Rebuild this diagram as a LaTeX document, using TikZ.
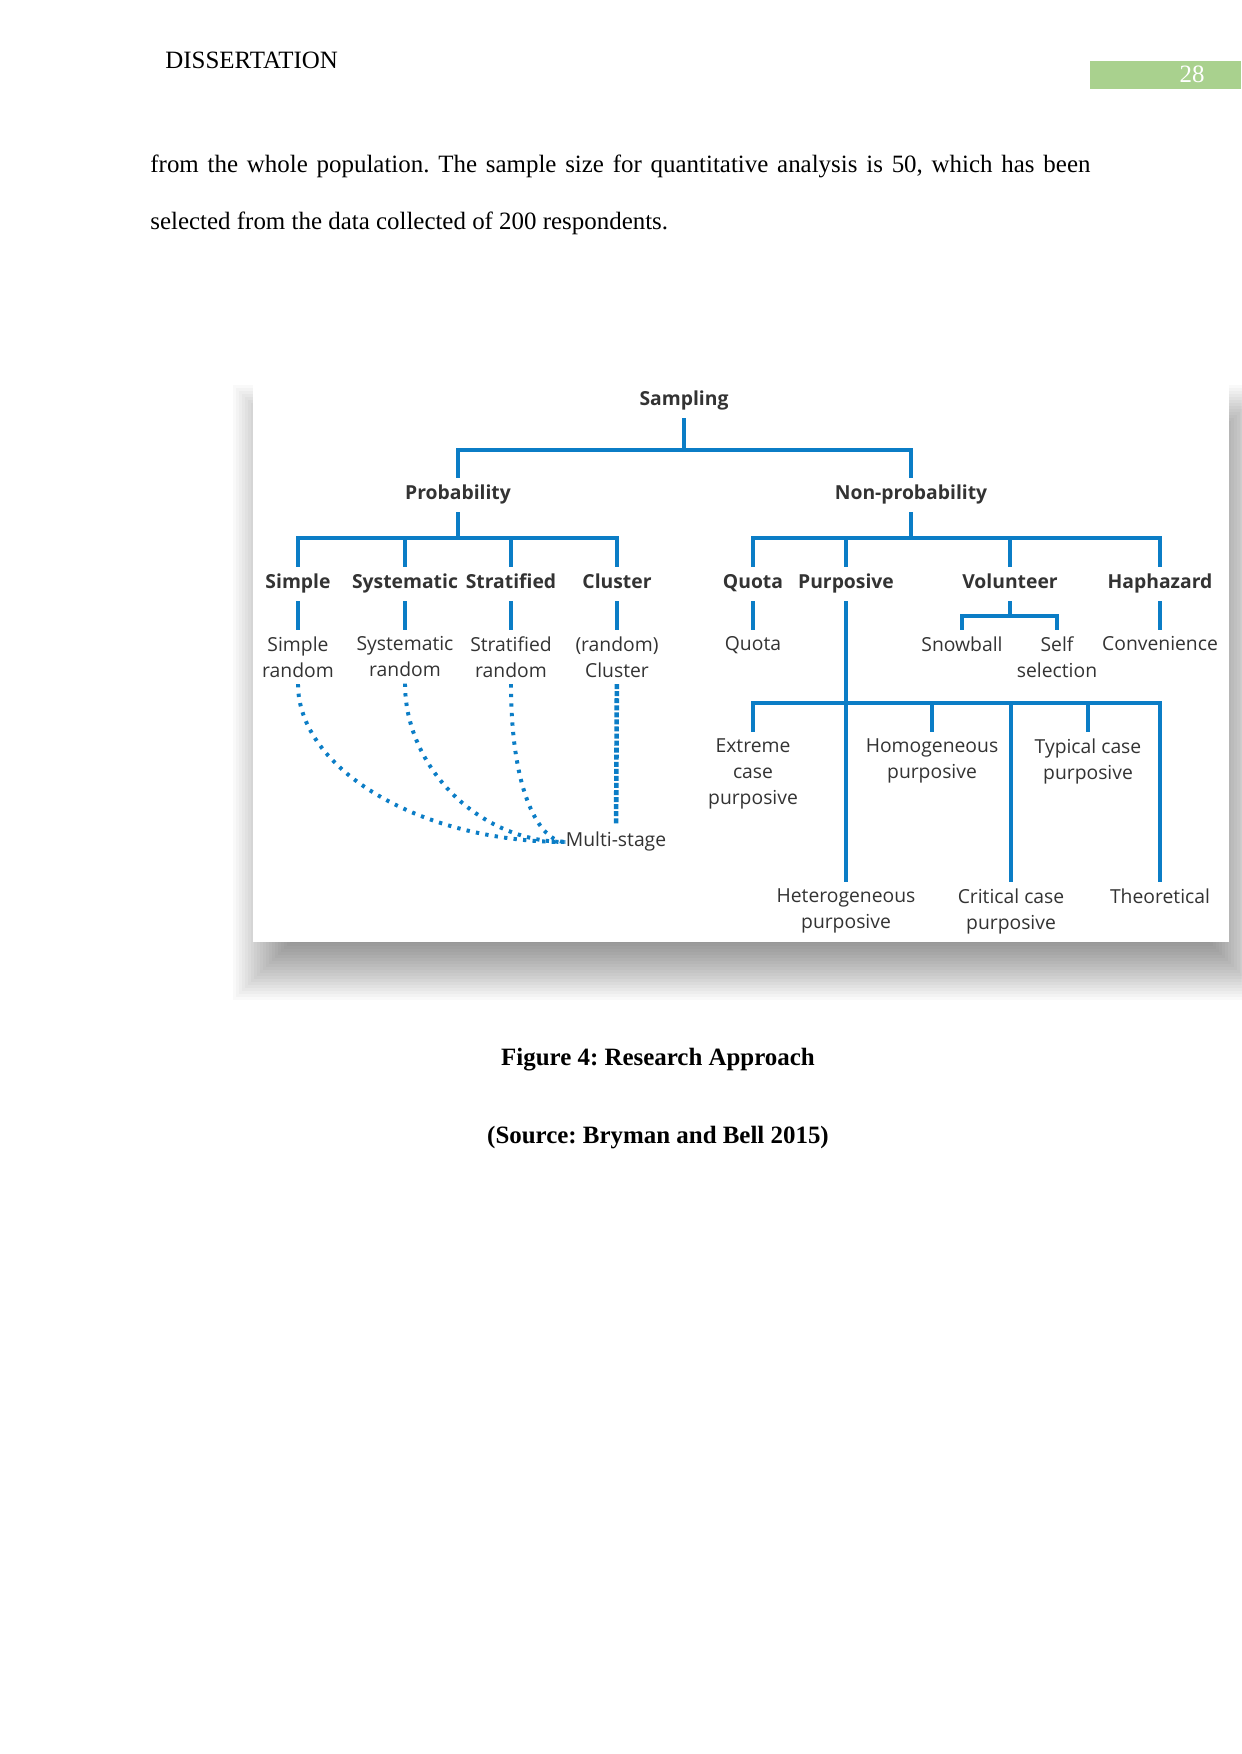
\documentclass[tikz,border=0pt]{standalone}
\usepackage{fontspec}
\setmainfont{Liberation Serif}
\newfontfamily\figfont{Open Sans}
\usetikzlibrary{positioning,calc}
\definecolor{Blue}{HTML}{0B7DC6}
\definecolor{Leaf}{HTML}{A9D18E}
\definecolor{Ink}{HTML}{333333}
\frenchspacing

\begin{document}
\begin{tikzpicture}[x=0.016922cm,y=-0.016922cm,
    pg/.style={inner sep=0pt,font=\fontsize{12}{14}\selectfont},
    hd/.style={font=\figfont\bfseries\fontsize{9.3}{12.5}\selectfont,text=Ink,inner xsep=0pt,inner ysep=3.4pt,text height=7pt,text depth=2.2pt},
    lf/.style={font=\figfont\fontsize{9.3}{12.5}\selectfont,text=Ink,align=center,inner xsep=0pt,inner ysep=3pt,anchor=north},
    l/.style={draw=Blue,line width=2.1pt},
    d/.style={draw=Blue,line width=1.9pt,dash pattern=on 1.6pt off 3pt}]
    \useasboundingbox[fill=white] (0,0) rectangle (1241,1754);
    % page head and text
    \node[pg,anchor=base west] (head) at (165,69) {DISSERTATION};
    \fill[Leaf] (1090,61) rectangle (1241,89);
    \node[pg,anchor=base,text=white] (pno) at (1192,83) {28};
    \node[pg,anchor=base west] (line1) at (150,173) {\makebox[15.907cm][s]{from the whole population. The sample size for quantitative analysis is 50, which has been}};
    \node[pg,anchor=base west] (line2) at (150,230) {selected from the data collected of 200 respondents.};
    % figure frame with soft shadow
    \foreach \r in {-30,-27,...,30}
      \fill[black,opacity=0.025] (263-\r,415-\r) rectangle (1237+\r,970+\r);
    \fill[white] (253,385) rectangle (1229,942);
    % tree
    \node[hd] (samp) at (684,401) {Sampling};
    \node[hd] (prob) at (458,495) {Probability};
    \node[hd] (nonp) at (911,495) {Non-probability};
    \node[hd] (simp) at (298,584) {Simple};
    \node[hd] (syst) at (405,584) {Systematic};
    \node[hd] (strat) at (511,584) {Stratified};
    \node[hd] (clus) at (617,584) {Cluster};
    \node[hd] (quota) at (753,584) {Quota};
    \node[hd] (purp) at (846,584) {Purposive};
    \node[hd] (volu) at (1010,584) {Volunteer};
    \node[hd] (hapha) at (1160,584) {Haphazard};
    \node[lf] (simpr) at (298,630) {Simple\\random};
    \node[lf] (systr) at (405,630) {Systematic\\random};
    \node[lf] (stratr) at (511,630) {Stratified\\random};
    \node[lf] (clusr) at (617,630) {(random)\\Cluster};
    \node[lf] (quotar) at (753,630) {Quota};
    \node[lf] (snow) at (962,630) {Snowball};
    \node[lf] (self) at (1057,630) {Self\\selection};
    \node[lf] (conv) at (1160,630) {Convenience};
    \node[lf] (extr) at (753,732) {Extreme\\case\\purposive};
    \node[lf] (homo) at (932,732) {Homogeneous\\purposive};
    \node[lf] (typ) at (1088,732) {Typical case\\purposive};
    \node[lf] (het) at (846,882) {Heterogeneous\\purposive};
    \node[lf] (crit) at (1011,882) {Critical case\\purposive};
    \node[lf] (theo) at (1160,882) {Theoretical};
    \node[hd,font=\figfont\fontsize{9.3}{12.5}\selectfont] (multi) at (616,842) {Multi-stage};
    \coordinate (sb) at (684,450);
    \coordinate (pb) at (458,538);
    \coordinate (nb) at (911,538);
    \coordinate (vb) at (1010,616);
    \coordinate (qb) at (846,703);
    \draw[l] (samp) -- (sb) -| (prob); \draw[l] (sb) -| (nonp);
    \foreach \c in {simp,syst,strat,clus} \draw[l] (prob) -- (pb) -| (\c);
    \foreach \c in {quota,purp,volu,hapha} \draw[l] (nonp) -- (nb) -| (\c);
    \draw[l] (simp) -- (simpr); \draw[l] (syst) -- (systr); \draw[l] (strat) -- (stratr); \draw[l] (clus) -- (clusr);
    \draw[l] (quota) -- (quotar); \draw[l] (hapha) -- (conv);
    \draw[l] (volu) -- (vb) -| (snow); \draw[l] (vb) -| (self);
    \draw[l] (purp) -- (het);
    \foreach \c in {extr,homo,typ,crit,theo} \draw[l] (qb) -| (\c);
    % multi-stage links
    \draw[d] (simpr.south) .. controls +(0,85) and +(-145,0) .. (multi.west);
    \draw[d] (systr.south) .. controls +(0,84) and +(-86,0) .. (multi.west);
    \draw[d] (stratr.south) .. controls +(0,110) and +(-25,0) .. (multi.west);
    \draw[draw=Blue,line width=2.2pt,dash pattern=on 2.4pt off 1pt] (clusr) -- (multi);
    % caption
    \node[pg,anchor=base,font=\fontsize{12}{14}\selectfont\bfseries] (cap) at (658,1065) {Figure 4: Research Approach};
    \node[pg,anchor=base,font=\fontsize{12}{14}\selectfont\bfseries] (src) at (658,1143) {(Source: Bryman and Bell 2015)};
  \end{tikzpicture}
\end{document}
